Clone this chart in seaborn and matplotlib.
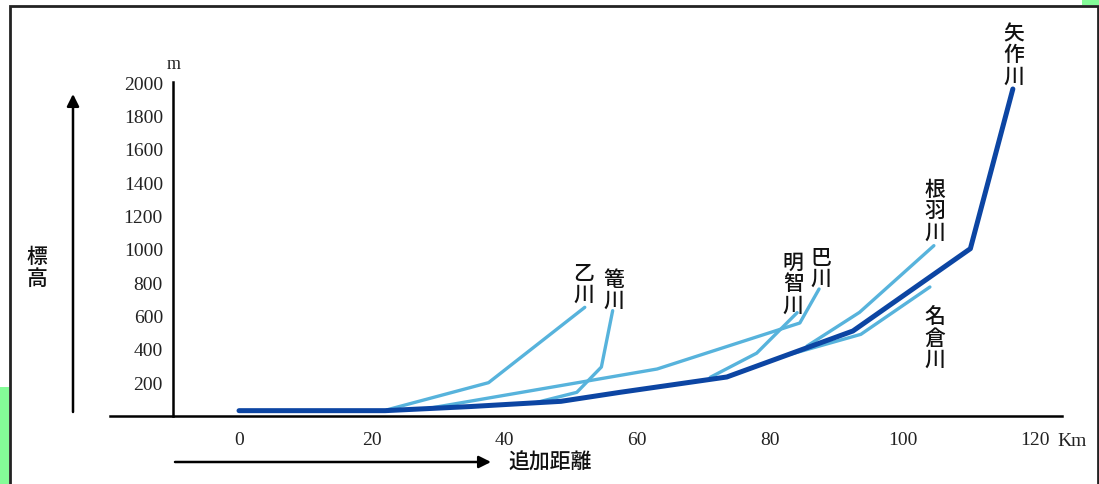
import numpy as np
import pandas as pd
import matplotlib.pyplot as plt
import seaborn as sns
from matplotlib.patches import Rectangle

# distance (km) / elevation (m)
yahagi_km = [0, 22, 35, 48.5, 57.4, 73.5, 92.5, 110.2, 116.6]
yahagi_m = [30, 30, 55, 86, 140, 232, 508, 1002, 1960]

otogawa_km = [22.3, 37.6, 52.1]
otogawa_m = [35, 198, 650]

kagogawa_km = [44.9, 50.9, 54.6, 56.3]
kagogawa_m = [80, 140, 292, 630]

tomoegawa_km = [28, 63, 84.5, 87.4]
tomoegawa_m = [40, 280, 556, 760]

akechigawa_km = [71, 78, 84.1]
akechigawa_m = [230, 375, 618]

nebagawa_km = [85.6, 93.5, 104.7]
nebagawa_m = [418, 620, 1020]

naguragawa_km = [82.5, 93.7, 104.1]
nagura_m = [362, 488, 772]

tributaries = {
    '乙川': (otogawa_km, otogawa_m),
    '篭川': (kagogawa_km, kagogawa_m),
    '巴川': (tomoegawa_km, tomoegawa_m),
    '明智川': (akechigawa_km, akechigawa_m),
    '根羽川': (nebagawa_km, nebagawa_m),
    '名倉川': (naguragawa_km, nagura_m),
}

# label anchor (km, m) = top centre of the vertical river names
label_pos = {
    '矢作川': (116.8, 2360),
    '乙川': (51.9, 922),
    '篭川': (56.5, 886),
    '巴川': (87.7, 1018),
    '明智川': (83.5, 988),
    '根羽川': (104.8, 1426),
    '名倉川': (104.8, 660),
}

y_ticks = [200, 400, 600, 800, 1000, 1200, 1400, 1600, 1800, 2000]
x_ticks = [0, 20, 40, 60, 80, 100, 120]

DARK = '#0c45a3'
LIGHT = '#57b3dc'

sns.set_theme(style='white')
plt.rcParams['font.family'] = ['Noto Sans CJK JP', 'DejaVu Sans']

fig = plt.figure(figsize=(10.99, 4.85), dpi=100)
ax = fig.add_axes([0.1001, 0.1409, 0.8662, 0.6873])

for name, (km, m) in tributaries.items():
    df = pd.DataFrame({'km': km, 'm': m})
    sns.lineplot(data=df, x='km', y='m', sort=False, color=LIGHT,
                 linewidth=2.4, ax=ax)

main_df = pd.DataFrame({'km': yahagi_km, 'm': yahagi_m})
sns.lineplot(data=main_df, x='km', y='m', sort=False, color=DARK,
             linewidth=3.6, ax=ax)

ax.set_xlim(-19.44, 124.0)
ax.set_ylim(0, 2000)
ax.set_xlabel('')
ax.set_ylabel('')

for s in ['top', 'right']:
    ax.spines[s].set_visible(False)
ax.spines['left'].set_position(('data', -10))
ax.spines['left'].set_bounds(0, 2000)
for s in ['left', 'bottom']:
    ax.spines[s].set_color('black')
    ax.spines[s].set_linewidth(1.8)

ax.set_xticks(x_ticks)
ax.set_yticks(y_ticks)
ax.set_xticklabels([str(t) for t in x_ticks], family='Liberation Serif', fontsize=14)
ax.set_yticklabels([str(t) for t in y_ticks], family='Liberation Serif', fontsize=14)
ax.tick_params(axis='x', direction='inout', length=6, width=1.6, pad=8, colors='black')
ax.tick_params(axis='y', direction='out', length=5, width=1.6, pad=2, colors='black')
ax.tick_params(axis='both', labelcolor='#222222')

# unit labels
ax.text(-9.8, 2060, 'm', family='Liberation Serif', fontsize=13,
        ha='center', va='bottom', color='#222222', clip_on=False)
ax.text(123.3, -150, 'Km', family='Liberation Serif', fontsize=14,
        ha='left', va='center', color='#222222', clip_on=False)

# vertical river names
for name, (xk, ym) in label_pos.items():
    ax.text(xk, ym, '\n'.join(name), fontsize=15, ha='center', va='top',
            linespacing=0.95, color='#111111', fontweight='medium',
            clip_on=False)

# axis titles with arrows (figure coordinates)
fig.text(37 / 1099, 1 - 268 / 485, '標\n高', fontsize=15, ha='center',
         va='center', linespacing=0.95, color='#111111', fontweight='medium')
ax.annotate('', xy=(73 / 1099, 1 - 95 / 485), xytext=(73 / 1099, 1 - 413 / 485),
            xycoords='figure fraction', textcoords='figure fraction',
            arrowprops=dict(arrowstyle='-|>', color='black', lw=1.8,
                            mutation_scale=18, shrinkA=0, shrinkB=0))
fig.text(508 / 1099, 1 - 463 / 485, '追加距離', fontsize=15, ha='left',
         va='center', color='#111111', fontweight='medium')
ax.annotate('', xy=(491 / 1099, 1 - 463 / 485), xytext=(175 / 1099, 1 - 463 / 485),
            xycoords='figure fraction', textcoords='figure fraction',
            arrowprops=dict(arrowstyle='-|>', color='black', lw=1.8,
                            mutation_scale=18, shrinkA=0, shrinkB=0))

# scan artefacts: green corners and the outer frame
fig.patches.append(Rectangle((0, 0), 9 / 1099, 97 / 485, transform=fig.transFigure,
                             facecolor='#84fc98', edgecolor='none', zorder=0))
fig.patches.append(Rectangle((1082 / 1099, 1 - 6 / 485), 17 / 1099, 6 / 485,
                             transform=fig.transFigure, facecolor='#84fc98',
                             edgecolor='none', zorder=0))
fig.patches.append(Rectangle((10 / 1099, -0.01), 1087.5 / 1099, 1.01 - 7 / 485,
                             transform=fig.transFigure, facecolor='none',
                             edgecolor='#222222', linewidth=2, zorder=5))

fig.savefig('out.png', dpi=100)
